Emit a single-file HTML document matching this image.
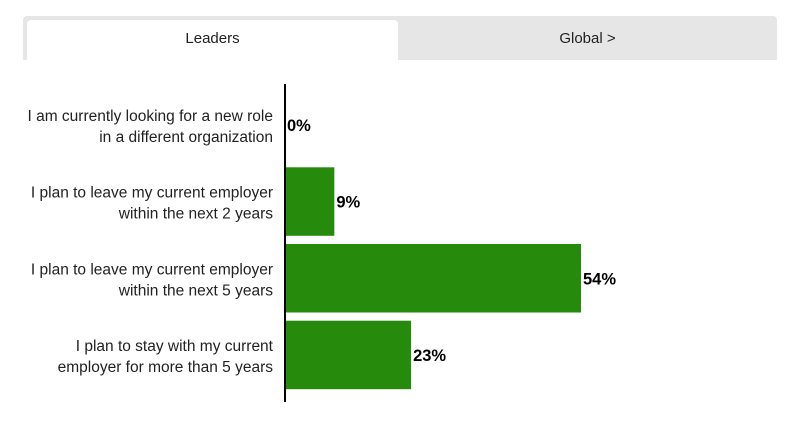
<!DOCTYPE html>
<html><head><meta charset="utf-8"><style>
body{margin:0;width:800px;height:421px;background:#fff;font-family:"Liberation Sans",sans-serif;overflow:hidden;position:relative}
.tabs{position:absolute;left:23px;top:16px;width:754px;height:44px;background:#e6e6e6;border-radius:4px 4px 0 0}
.tab{position:absolute;top:4px;height:40px;line-height:38px;text-align:center;font-size:15px;color:#222}
</style></head><body>
<div class="tabs">
<div class="tab" style="left:4px;width:371px;background:#fff;border-radius:4px 4px 0 0">Leaders</div>
<div class="tab" style="left:375px;width:379px">Global &gt;</div>
</div>
<svg id="chart" width="800" height="421" style="position:absolute;left:0;top:0"></svg>
<script>
const categories=[["I am currently looking for a new role","in a different organization"],["I plan to leave my current employer","within the next 2 years"],["I plan to leave my current employer","within the next 5 years"],["I plan to stay with my current","employer for more than 5 years"]];
const values=[0,9,54,23];
const labels=["0%","9%","54%","23%"];
const svg=document.getElementById('chart');
const NS='http://www.w3.org/2000/svg';
const x0=285,scale=296/54,top0=86.5,band=76.7,bh=68.5;
function x(v){return x0+v*scale;}
function yc(i){return top0+band*i+band/2;}
values.forEach((v,i)=>{
 const r=document.createElementNS(NS,'rect');
 r.setAttribute('x',x0);r.setAttribute('y',yc(i)-bh/2);r.setAttribute('width',x(v)-x0);r.setAttribute('height',bh);r.setAttribute('fill','#268a0d');
 
 
 svg.appendChild(r);
 const t=document.createElementNS(NS,'text');
 t.setAttribute('x',x(v)+2);t.setAttribute('y',yc(i)+6);t.setAttribute('font-size','16.5');t.setAttribute('font-weight','bold');t.textContent=labels[i];
 
 
 svg.appendChild(t);
 categories[i].forEach((line,j)=>{
  const c=document.createElementNS(NS,'text');
  c.setAttribute('x',273);c.setAttribute('y',yc(i)-4+j*21);c.setAttribute('text-anchor','end');c.setAttribute('font-size','15.5');c.setAttribute('fill','#222');c.textContent=line;
  
  
  svg.appendChild(c);
 });
});
const ax=document.createElementNS(NS,'line');
ax.setAttribute('x1',x0);ax.setAttribute('x2',x0);ax.setAttribute('y1',84);ax.setAttribute('y2',402);ax.setAttribute('stroke','#000');ax.setAttribute('stroke-width','2');


svg.appendChild(ax);
</script>
</body></html>
